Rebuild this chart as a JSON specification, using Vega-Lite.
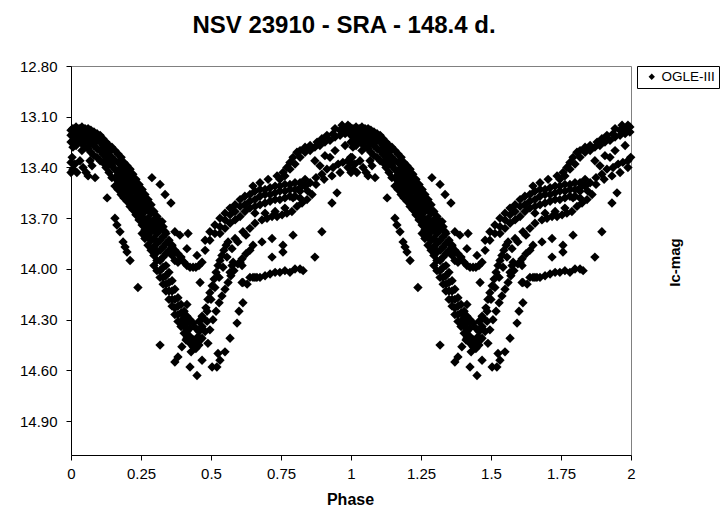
{
  "$schema": "https://vega.github.io/schema/vega-lite/v6.json",
  "width": 560,
  "height": 389,
  "autosize": "none",
  "padding": {"left": 71, "top": 66, "right": 94, "bottom": 59},
  "background": "white",
  "config": {"view": {"stroke": "#808080", "strokeWidth": 1}, "font": "Liberation Sans"},
  "title": {"text": "NSV 23910 - SRA - 148.4 d.", "font": "Liberation Sans", "fontSize": 24, "fontWeight": "bold", "color": "black", "anchor": "middle", "dx": -7, "dy": 22, "offset": 24, "baseline": "alphabetic"},
  "data": {"values": [
    {"p":0,"m":13.18},{"p":0,"m":13.21},{"p":0,"m":13.25},{"p":0.007,"m":13.17},{"p":0.007,"m":13.2},{"p":0.007,"m":13.24},{"p":0.007,"m":13.28},{"p":0.018,"m":13.16},{"p":0.018,"m":13.2},{"p":0.018,"m":13.23},{"p":0.018,"m":13.27},{"p":0.029,"m":13.17},{"p":0.029,"m":13.2},{"p":0.029,"m":13.24},{"p":0.039,"m":13.16},{"p":0.039,"m":13.19},{"p":0.039,"m":13.23},{"p":0.039,"m":13.26},{"p":0.039,"m":13.3},{"p":0.05,"m":13.17},{"p":0.05,"m":13.2},{"p":0.05,"m":13.24},{"p":0.05,"m":13.28},{"p":0.061,"m":13.17},{"p":0.061,"m":13.21},{"p":0.061,"m":13.25},{"p":0.061,"m":13.29},{"p":0.071,"m":13.18},{"p":0.071,"m":13.22},{"p":0.071,"m":13.26},{"p":0.071,"m":13.31},{"p":0.082,"m":13.19},{"p":0.082,"m":13.23},{"p":0.082,"m":13.27},{"p":0.082,"m":13.33},{"p":0.093,"m":13.2},{"p":0.093,"m":13.24},{"p":0.093,"m":13.29},{"p":0.093,"m":13.34},{"p":0.104,"m":13.21},{"p":0.104,"m":13.25},{"p":0.104,"m":13.3},{"p":0.104,"m":13.36},{"p":0.114,"m":13.23},{"p":0.114,"m":13.27},{"p":0.114,"m":13.32},{"p":0.114,"m":13.37},{"p":0.125,"m":13.25},{"p":0.125,"m":13.3},{"p":0.125,"m":13.34},{"p":0.125,"m":13.4},{"p":0.136,"m":13.27},{"p":0.136,"m":13.31},{"p":0.136,"m":13.37},{"p":0.136,"m":13.43},{"p":0.146,"m":13.28},{"p":0.146,"m":13.34},{"p":0.146,"m":13.39},{"p":0.146,"m":13.46},
    {"p":0.004,"m":13.34},{"p":0.007,"m":13.41},{"p":0.014,"m":13.38},{"p":0.021,"m":13.43},{"p":0.032,"m":13.36},{"p":0.043,"m":13.4},{"p":0.054,"m":13.43},{"p":0.061,"m":13.45},{"p":0.075,"m":13.39},{"p":0.086,"m":13.46},{"p":0.068,"m":13.36},{"p":0,"m":13.37},{"p":0,"m":13.43},
    {"p":0.157,"m":13.3},{"p":0.157,"m":13.36},{"p":0.157,"m":13.41},{"p":0.157,"m":13.46},{"p":0.157,"m":13.51},
    {"p":0.168,"m":13.32},{"p":0.168,"m":13.37},{"p":0.168,"m":13.43},{"p":0.168,"m":13.48},{"p":0.168,"m":13.53},
    {"p":0.179,"m":13.34},{"p":0.179,"m":13.4},{"p":0.179,"m":13.45},{"p":0.179,"m":13.5},{"p":0.179,"m":13.56},
    {"p":0.189,"m":13.37},{"p":0.189,"m":13.42},{"p":0.189,"m":13.47},{"p":0.189,"m":13.53},{"p":0.189,"m":13.58},
    {"p":0.2,"m":13.39},{"p":0.2,"m":13.44},{"p":0.2,"m":13.5},{"p":0.2,"m":13.55},{"p":0.2,"m":13.6},
    {"p":0.211,"m":13.41},{"p":0.211,"m":13.47},{"p":0.211,"m":13.52},{"p":0.211,"m":13.57},{"p":0.211,"m":13.63},
    {"p":0.221,"m":13.44},{"p":0.221,"m":13.49},{"p":0.221,"m":13.54},{"p":0.221,"m":13.6},{"p":0.221,"m":13.65},
    {"p":0.232,"m":13.47},{"p":0.232,"m":13.52},{"p":0.232,"m":13.57},{"p":0.232,"m":13.63},{"p":0.232,"m":13.68},
    {"p":0.243,"m":13.5},{"p":0.243,"m":13.55},{"p":0.243,"m":13.6},{"p":0.243,"m":13.66},{"p":0.243,"m":13.71},
    {"p":0.254,"m":13.53},{"p":0.254,"m":13.58},{"p":0.254,"m":13.63},{"p":0.254,"m":13.69},{"p":0.254,"m":13.74},{"p":0.254,"m":13.79},
    {"p":0.264,"m":13.56},{"p":0.264,"m":13.61},{"p":0.264,"m":13.66},{"p":0.264,"m":13.72},{"p":0.264,"m":13.77},{"p":0.264,"m":13.82},
    {"p":0.275,"m":13.59},{"p":0.275,"m":13.64},{"p":0.275,"m":13.7},{"p":0.275,"m":13.75},{"p":0.275,"m":13.8},{"p":0.275,"m":13.86},
    {"p":0.286,"m":13.62},{"p":0.286,"m":13.67},{"p":0.286,"m":13.73},{"p":0.286,"m":13.78},{"p":0.286,"m":13.83},{"p":0.286,"m":13.89},
    {"p":0.296,"m":13.66},{"p":0.296,"m":13.71},{"p":0.296,"m":13.76},{"p":0.296,"m":13.82},{"p":0.296,"m":13.87},{"p":0.296,"m":13.92},{"p":0.296,"m":13.98},
    {"p":0.307,"m":13.69},{"p":0.307,"m":13.74},{"p":0.307,"m":13.79},{"p":0.307,"m":13.85},{"p":0.307,"m":13.9},{"p":0.307,"m":13.95},{"p":0.307,"m":14.01},
    {"p":0.318,"m":13.72},{"p":0.318,"m":13.77},{"p":0.318,"m":13.83},{"p":0.318,"m":13.89},{"p":0.318,"m":13.95},{"p":0.318,"m":14.01},{"p":0.318,"m":14.05},
    {"p":0.329,"m":13.75},{"p":0.329,"m":13.81},{"p":0.329,"m":13.87},{"p":0.329,"m":13.93},{"p":0.329,"m":13.99},{"p":0.329,"m":14.05},{"p":0.329,"m":14.09},
    {"p":0.339,"m":13.79},{"p":0.339,"m":13.85},{"p":0.339,"m":13.91},{"p":0.339,"m":13.98},{"p":0.339,"m":14.04},{"p":0.339,"m":14.09},{"p":0.339,"m":14.13},
    {"p":0.35,"m":13.83},{"p":0.35,"m":13.89},{"p":0.35,"m":14.02},{"p":0.35,"m":14.08},{"p":0.35,"m":14.13},{"p":0.35,"m":14.18},
    {"p":0.361,"m":13.86},{"p":0.361,"m":13.92},{"p":0.361,"m":14.07},{"p":0.361,"m":14.13},{"p":0.361,"m":14.18},{"p":0.361,"m":14.22},
    {"p":0.371,"m":13.89},{"p":0.371,"m":13.95},{"p":0.371,"m":14.12},{"p":0.371,"m":14.18},{"p":0.371,"m":14.23},{"p":0.371,"m":14.27},
    {"p":0.382,"m":13.91},{"p":0.382,"m":14.17},{"p":0.382,"m":14.22},{"p":0.382,"m":14.27},{"p":0.382,"m":14.31},
    {"p":0.393,"m":13.93},{"p":0.393,"m":14.21},{"p":0.393,"m":14.26},{"p":0.393,"m":14.31},{"p":0.393,"m":14.34},
    {"p":0.404,"m":13.96},{"p":0.404,"m":14.25},{"p":0.404,"m":14.29},{"p":0.404,"m":14.34},{"p":0.404,"m":14.38},
    {"p":0.414,"m":13.98},{"p":0.414,"m":14.28},{"p":0.414,"m":14.32},{"p":0.414,"m":14.37},{"p":0.414,"m":14.41},
    {"p":0.425,"m":13.99},{"p":0.425,"m":14.3},{"p":0.425,"m":14.35},{"p":0.425,"m":14.4},{"p":0.425,"m":14.44},
    {"p":0.436,"m":13.99},{"p":0.436,"m":14.32},{"p":0.436,"m":14.42},{"p":0.436,"m":14.46},
    {"p":0.446,"m":13.99},{"p":0.446,"m":14.35},{"p":0.446,"m":14.44},{"p":0.446,"m":14.47},
    {"p":0.457,"m":13.98},{"p":0.457,"m":14.31},{"p":0.457,"m":14.37},{"p":0.457,"m":14.45},
    {"p":0.468,"m":13.96},{"p":0.468,"m":14.28},{"p":0.468,"m":14.34},{"p":0.468,"m":14.41},
    {"p":0.471,"m":14.29},{"p":0.482,"m":14.23},{"p":0.489,"m":14.18},{"p":0.496,"m":14.14},{"p":0.504,"m":14.1},{"p":0.511,"m":14.06},{"p":0.518,"m":14.02},{"p":0.525,"m":13.98},{"p":0.532,"m":13.95},{"p":0.539,"m":13.92},{"p":0.546,"m":13.89},{"p":0.554,"m":13.86},{"p":0.561,"m":13.84},
    {"p":0.586,"m":13.82},{"p":0.614,"m":13.78},{"p":0.639,"m":13.76},{"p":0.657,"m":13.73},{"p":0.682,"m":13.71},{"p":0.7,"m":13.7},{"p":0.718,"m":13.69},{"p":0.736,"m":13.69},{"p":0.754,"m":13.68},{"p":0.771,"m":13.67},{"p":0.789,"m":13.66},{"p":0.807,"m":13.63},{"p":0.825,"m":13.61},{"p":0.843,"m":13.59},{"p":0.861,"m":13.56},
    {"p":0.486,"m":14.25},{"p":0.5,"m":14.18},{"p":0.514,"m":14.11},{"p":0.529,"m":14.05},{"p":0.543,"m":13.99},{"p":0.557,"m":13.93},{"p":0.575,"m":13.88},{"p":0.596,"m":13.84},{"p":0.625,"m":13.8},
    {"p":0.496,"m":14.36},{"p":0.507,"m":14.3},{"p":0.518,"m":14.25},{"p":0.529,"m":14.2},{"p":0.539,"m":14.16},{"p":0.55,"m":14.12},{"p":0.561,"m":14.08},{"p":0.571,"m":14.04},{"p":0.582,"m":14.01},{"p":0.596,"m":13.97},{"p":0.611,"m":13.94},{"p":0.625,"m":13.91},{"p":0.639,"m":13.89},
    {"p":0.682,"m":13.84},{"p":0.718,"m":13.82},{"p":0.757,"m":13.86},{"p":0.793,"m":13.8},{"p":0.757,"m":13.9},{"p":0.718,"m":13.93},{"p":0.65,"m":13.86},
    {"p":0.479,"m":14.37},{"p":0.461,"m":14.42},{"p":0.454,"m":14.4},{"p":0.486,"m":14.31},
    {"p":0.318,"m":14.45},{"p":0.396,"m":14.46},{"p":0.382,"m":14.52},{"p":0.371,"m":14.55},{"p":0.425,"m":14.58},{"p":0.45,"m":14.63},{"p":0.468,"m":14.54},{"p":0.504,"m":14.58},{"p":0.521,"m":14.58},{"p":0.532,"m":14.54},{"p":0.55,"m":14.49},{"p":0.525,"m":14.5},{"p":0.489,"m":14.44},{"p":0.568,"m":14.41},{"p":0.593,"m":14.32},{"p":0.6,"m":14.25},{"p":0.614,"m":14.2},{"p":0.414,"m":14.21},{"p":0.461,"m":14.08},{"p":0.429,"m":14.49},{"p":0.411,"m":14.42},{"p":0.611,"m":14.08},{"p":0.629,"m":14.09},{"p":0.65,"m":14.05},{"p":0.664,"m":14.05},{"p":0.575,"m":13.98},{"p":0.611,"m":13.98},
    {"p":0.479,"m":13.89},{"p":0.479,"m":13.83},{"p":0.496,"m":13.83},{"p":0.496,"m":13.78},{"p":0.514,"m":13.79},{"p":0.514,"m":13.74},{"p":0.532,"m":13.75},{"p":0.532,"m":13.7},{"p":0.532,"m":13.79},{"p":0.55,"m":13.71},{"p":0.55,"m":13.67},{"p":0.55,"m":13.76},{"p":0.568,"m":13.68},{"p":0.568,"m":13.64},{"p":0.568,"m":13.73},{"p":0.586,"m":13.66},{"p":0.586,"m":13.62},{"p":0.586,"m":13.71},{"p":0.604,"m":13.63},{"p":0.604,"m":13.59},{"p":0.604,"m":13.69},{"p":0.621,"m":13.62},{"p":0.621,"m":13.57},{"p":0.621,"m":13.66},{"p":0.639,"m":13.6},{"p":0.639,"m":13.56},{"p":0.639,"m":13.64},{"p":0.657,"m":13.59},{"p":0.657,"m":13.54},{"p":0.657,"m":13.63},{"p":0.657,"m":13.67},{"p":0.675,"m":13.57},{"p":0.675,"m":13.53},{"p":0.675,"m":13.62},{"p":0.693,"m":13.56},{"p":0.693,"m":13.53},{"p":0.693,"m":13.61},{"p":0.693,"m":13.67},{"p":0.711,"m":13.56},{"p":0.711,"m":13.52},{"p":0.711,"m":13.6},{"p":0.729,"m":13.55},{"p":0.729,"m":13.51},{"p":0.729,"m":13.59},{"p":0.729,"m":13.66},{"p":0.746,"m":13.54},{"p":0.746,"m":13.51},{"p":0.746,"m":13.59},{"p":0.764,"m":13.54},{"p":0.764,"m":13.5},{"p":0.764,"m":13.58},{"p":0.764,"m":13.64},{"p":0.782,"m":13.53},{"p":0.782,"m":13.5},{"p":0.782,"m":13.57},{"p":0.8,"m":13.53},{"p":0.8,"m":13.49},{"p":0.8,"m":13.57},{"p":0.818,"m":13.52},{"p":0.818,"m":13.49},{"p":0.836,"m":13.51},{"p":0.836,"m":13.47},
    {"p":0.65,"m":13.51},{"p":0.675,"m":13.49},{"p":0.704,"m":13.47},{"p":0.736,"m":13.45},{"p":0.757,"m":13.43},{"p":0.771,"m":13.4},{"p":0.782,"m":13.37},{"p":0.793,"m":13.34},{"p":0.807,"m":13.31},{"p":0.818,"m":13.3},{"p":0.836,"m":13.28},{"p":0.854,"m":13.27},{"p":0.879,"m":13.25},{"p":0.896,"m":13.23},{"p":0.914,"m":13.21},{"p":0.936,"m":13.2},{"p":0.961,"m":13.18},{"p":0.979,"m":13.17},{"p":0.996,"m":13.16},
    {"p":0.818,"m":13.34},{"p":0.836,"m":13.31},{"p":0.854,"m":13.3},{"p":0.871,"m":13.28},{"p":0.889,"m":13.27},{"p":0.907,"m":13.25},{"p":0.925,"m":13.24},{"p":0.943,"m":13.22},{"p":0.961,"m":13.21},{"p":0.979,"m":13.2},{"p":0.996,"m":13.19},{"p":0.943,"m":13.17},{"p":0.968,"m":13.15},{"p":0.989,"m":13.15},{"p":0.8,"m":13.38},{"p":0.782,"m":13.41},{"p":0.764,"m":13.45},{"p":0.746,"m":13.47},
    {"p":0.793,"m":13.58},{"p":0.818,"m":13.54},{"p":0.836,"m":13.51},{"p":0.854,"m":13.49},{"p":0.875,"m":13.46},{"p":0.896,"m":13.44},{"p":0.914,"m":13.41},{"p":0.936,"m":13.4},{"p":0.954,"m":13.38},{"p":0.971,"m":13.37},{"p":0.989,"m":13.36},{"p":0.999,"m":13.34},{"p":0.818,"m":13.58},{"p":0.846,"m":13.54},{"p":0.875,"m":13.5},{"p":0.904,"m":13.47},{"p":0.932,"m":13.45},{"p":0.961,"m":13.43},{"p":0.989,"m":13.4},{"p":0.871,"m":13.36},{"p":0.907,"m":13.33},{"p":0.943,"m":13.3},{"p":0.979,"m":13.27},{"p":0.889,"m":13.39},{"p":0.925,"m":13.34},
    {"p":0.614,"m":14.08},{"p":0.639,"m":14.05},{"p":0.657,"m":14.05},{"p":0.675,"m":14.05},{"p":0.693,"m":14.04},{"p":0.711,"m":14.03},{"p":0.729,"m":14.02},{"p":0.746,"m":14.02},{"p":0.764,"m":14.01},{"p":0.782,"m":14.02},{"p":0.8,"m":14},{"p":0.818,"m":14},{"p":0.829,"m":14.01},{"p":0.579,"m":13.96},{"p":0.604,"m":13.96},{"p":0.568,"m":14.02},{"p":0.871,"m":13.93},{"p":0.896,"m":13.78},{"p":0.932,"m":13.61},{"p":0.95,"m":13.55},
    {"p":0.289,"m":13.46},{"p":0.318,"m":13.5},{"p":0.336,"m":13.56},{"p":0.357,"m":13.61},{"p":0.418,"m":13.79},{"p":0.414,"m":13.88},{"p":0.45,"m":13.92},{"p":0.129,"m":13.58},{"p":0.239,"m":14.11},{"p":0.157,"m":13.7},{"p":0.164,"m":13.74},{"p":0.175,"m":13.78},{"p":0.186,"m":13.84},{"p":0.193,"m":13.87},{"p":0.2,"m":13.9},{"p":0.211,"m":13.95},
    {"p":0.293,"m":13.66},{"p":0.325,"m":13.72},{"p":0.336,"m":13.78},{"p":0.371,"m":13.78},{"p":0.389,"m":13.8},{"p":0.361,"m":13.87},{"p":0.382,"m":13.96},

    {"p":1,"m":13.18},{"p":1,"m":13.21},{"p":1,"m":13.25},{"p":1.007,"m":13.17},{"p":1.007,"m":13.2},{"p":1.007,"m":13.24},{"p":1.007,"m":13.28},{"p":1.018,"m":13.16},{"p":1.018,"m":13.2},{"p":1.018,"m":13.23},{"p":1.018,"m":13.27},{"p":1.029,"m":13.17},{"p":1.029,"m":13.2},{"p":1.029,"m":13.24},{"p":1.039,"m":13.16},{"p":1.039,"m":13.19},{"p":1.039,"m":13.23},{"p":1.039,"m":13.26},{"p":1.039,"m":13.3},{"p":1.05,"m":13.17},{"p":1.05,"m":13.2},{"p":1.05,"m":13.24},{"p":1.05,"m":13.28},{"p":1.061,"m":13.17},{"p":1.061,"m":13.21},{"p":1.061,"m":13.25},{"p":1.061,"m":13.29},{"p":1.071,"m":13.18},{"p":1.071,"m":13.22},{"p":1.071,"m":13.26},{"p":1.071,"m":13.31},{"p":1.082,"m":13.19},{"p":1.082,"m":13.23},{"p":1.082,"m":13.27},{"p":1.082,"m":13.33},{"p":1.093,"m":13.2},{"p":1.093,"m":13.24},{"p":1.093,"m":13.29},{"p":1.093,"m":13.34},{"p":1.104,"m":13.21},{"p":1.104,"m":13.25},{"p":1.104,"m":13.3},{"p":1.104,"m":13.36},{"p":1.114,"m":13.23},{"p":1.114,"m":13.27},{"p":1.114,"m":13.32},{"p":1.114,"m":13.37},{"p":1.125,"m":13.25},{"p":1.125,"m":13.3},{"p":1.125,"m":13.34},{"p":1.125,"m":13.4},{"p":1.136,"m":13.27},{"p":1.136,"m":13.31},{"p":1.136,"m":13.37},{"p":1.136,"m":13.43},{"p":1.146,"m":13.28},{"p":1.146,"m":13.34},{"p":1.146,"m":13.39},{"p":1.146,"m":13.46},
    {"p":1.004,"m":13.34},{"p":1.007,"m":13.41},{"p":1.014,"m":13.38},{"p":1.021,"m":13.43},{"p":1.032,"m":13.36},{"p":1.043,"m":13.4},{"p":1.054,"m":13.43},{"p":1.061,"m":13.45},{"p":1.075,"m":13.39},{"p":1.086,"m":13.46},{"p":1.068,"m":13.36},{"p":1,"m":13.37},{"p":1,"m":13.43},
    {"p":1.157,"m":13.3},{"p":1.157,"m":13.36},{"p":1.157,"m":13.41},{"p":1.157,"m":13.46},{"p":1.157,"m":13.51},
    {"p":1.168,"m":13.32},{"p":1.168,"m":13.37},{"p":1.168,"m":13.43},{"p":1.168,"m":13.48},{"p":1.168,"m":13.53},
    {"p":1.179,"m":13.34},{"p":1.179,"m":13.4},{"p":1.179,"m":13.45},{"p":1.179,"m":13.5},{"p":1.179,"m":13.56},
    {"p":1.189,"m":13.37},{"p":1.189,"m":13.42},{"p":1.189,"m":13.47},{"p":1.189,"m":13.53},{"p":1.189,"m":13.58},
    {"p":1.2,"m":13.39},{"p":1.2,"m":13.44},{"p":1.2,"m":13.5},{"p":1.2,"m":13.55},{"p":1.2,"m":13.6},
    {"p":1.211,"m":13.41},{"p":1.211,"m":13.47},{"p":1.211,"m":13.52},{"p":1.211,"m":13.57},{"p":1.211,"m":13.63},
    {"p":1.221,"m":13.44},{"p":1.221,"m":13.49},{"p":1.221,"m":13.54},{"p":1.221,"m":13.6},{"p":1.221,"m":13.65},
    {"p":1.232,"m":13.47},{"p":1.232,"m":13.52},{"p":1.232,"m":13.57},{"p":1.232,"m":13.63},{"p":1.232,"m":13.68},
    {"p":1.243,"m":13.5},{"p":1.243,"m":13.55},{"p":1.243,"m":13.6},{"p":1.243,"m":13.66},{"p":1.243,"m":13.71},
    {"p":1.254,"m":13.53},{"p":1.254,"m":13.58},{"p":1.254,"m":13.63},{"p":1.254,"m":13.69},{"p":1.254,"m":13.74},{"p":1.254,"m":13.79},
    {"p":1.264,"m":13.56},{"p":1.264,"m":13.61},{"p":1.264,"m":13.66},{"p":1.264,"m":13.72},{"p":1.264,"m":13.77},{"p":1.264,"m":13.82},
    {"p":1.275,"m":13.59},{"p":1.275,"m":13.64},{"p":1.275,"m":13.7},{"p":1.275,"m":13.75},{"p":1.275,"m":13.8},{"p":1.275,"m":13.86},
    {"p":1.286,"m":13.62},{"p":1.286,"m":13.67},{"p":1.286,"m":13.73},{"p":1.286,"m":13.78},{"p":1.286,"m":13.83},{"p":1.286,"m":13.89},
    {"p":1.296,"m":13.66},{"p":1.296,"m":13.71},{"p":1.296,"m":13.76},{"p":1.296,"m":13.82},{"p":1.296,"m":13.87},{"p":1.296,"m":13.92},{"p":1.296,"m":13.98},
    {"p":1.307,"m":13.69},{"p":1.307,"m":13.74},{"p":1.307,"m":13.79},{"p":1.307,"m":13.85},{"p":1.307,"m":13.9},{"p":1.307,"m":13.95},{"p":1.307,"m":14.01},
    {"p":1.318,"m":13.72},{"p":1.318,"m":13.77},{"p":1.318,"m":13.83},{"p":1.318,"m":13.89},{"p":1.318,"m":13.95},{"p":1.318,"m":14.01},{"p":1.318,"m":14.05},
    {"p":1.329,"m":13.75},{"p":1.329,"m":13.81},{"p":1.329,"m":13.87},{"p":1.329,"m":13.93},{"p":1.329,"m":13.99},{"p":1.329,"m":14.05},{"p":1.329,"m":14.09},
    {"p":1.339,"m":13.79},{"p":1.339,"m":13.85},{"p":1.339,"m":13.91},{"p":1.339,"m":13.98},{"p":1.339,"m":14.04},{"p":1.339,"m":14.09},{"p":1.339,"m":14.13},
    {"p":1.35,"m":13.83},{"p":1.35,"m":13.89},{"p":1.35,"m":14.02},{"p":1.35,"m":14.08},{"p":1.35,"m":14.13},{"p":1.35,"m":14.18},
    {"p":1.361,"m":13.86},{"p":1.361,"m":13.92},{"p":1.361,"m":14.07},{"p":1.361,"m":14.13},{"p":1.361,"m":14.18},{"p":1.361,"m":14.22},
    {"p":1.371,"m":13.89},{"p":1.371,"m":13.95},{"p":1.371,"m":14.12},{"p":1.371,"m":14.18},{"p":1.371,"m":14.23},{"p":1.371,"m":14.27},
    {"p":1.382,"m":13.91},{"p":1.382,"m":14.17},{"p":1.382,"m":14.22},{"p":1.382,"m":14.27},{"p":1.382,"m":14.31},
    {"p":1.393,"m":13.93},{"p":1.393,"m":14.21},{"p":1.393,"m":14.26},{"p":1.393,"m":14.31},{"p":1.393,"m":14.34},
    {"p":1.404,"m":13.96},{"p":1.404,"m":14.25},{"p":1.404,"m":14.29},{"p":1.404,"m":14.34},{"p":1.404,"m":14.38},
    {"p":1.414,"m":13.98},{"p":1.414,"m":14.28},{"p":1.414,"m":14.32},{"p":1.414,"m":14.37},{"p":1.414,"m":14.41},
    {"p":1.425,"m":13.99},{"p":1.425,"m":14.3},{"p":1.425,"m":14.35},{"p":1.425,"m":14.4},{"p":1.425,"m":14.44},
    {"p":1.436,"m":13.99},{"p":1.436,"m":14.32},{"p":1.436,"m":14.42},{"p":1.436,"m":14.46},
    {"p":1.446,"m":13.99},{"p":1.446,"m":14.35},{"p":1.446,"m":14.44},{"p":1.446,"m":14.47},
    {"p":1.457,"m":13.98},{"p":1.457,"m":14.31},{"p":1.457,"m":14.37},{"p":1.457,"m":14.45},
    {"p":1.468,"m":13.96},{"p":1.468,"m":14.28},{"p":1.468,"m":14.34},{"p":1.468,"m":14.41},
    {"p":1.471,"m":14.29},{"p":1.482,"m":14.23},{"p":1.489,"m":14.18},{"p":1.496,"m":14.14},{"p":1.504,"m":14.1},{"p":1.511,"m":14.06},{"p":1.518,"m":14.02},{"p":1.525,"m":13.98},{"p":1.532,"m":13.95},{"p":1.539,"m":13.92},{"p":1.546,"m":13.89},{"p":1.554,"m":13.86},{"p":1.561,"m":13.84},
    {"p":1.586,"m":13.82},{"p":1.614,"m":13.78},{"p":1.639,"m":13.76},{"p":1.657,"m":13.73},{"p":1.682,"m":13.71},{"p":1.7,"m":13.7},{"p":1.718,"m":13.69},{"p":1.736,"m":13.69},{"p":1.754,"m":13.68},{"p":1.771,"m":13.67},{"p":1.789,"m":13.66},{"p":1.807,"m":13.63},{"p":1.825,"m":13.61},{"p":1.843,"m":13.59},{"p":1.861,"m":13.56},
    {"p":1.486,"m":14.25},{"p":1.5,"m":14.18},{"p":1.514,"m":14.11},{"p":1.529,"m":14.05},{"p":1.543,"m":13.99},{"p":1.557,"m":13.93},{"p":1.575,"m":13.88},{"p":1.596,"m":13.84},{"p":1.625,"m":13.8},
    {"p":1.496,"m":14.36},{"p":1.507,"m":14.3},{"p":1.518,"m":14.25},{"p":1.529,"m":14.2},{"p":1.539,"m":14.16},{"p":1.55,"m":14.12},{"p":1.561,"m":14.08},{"p":1.571,"m":14.04},{"p":1.582,"m":14.01},{"p":1.596,"m":13.97},{"p":1.611,"m":13.94},{"p":1.625,"m":13.91},{"p":1.639,"m":13.89},
    {"p":1.682,"m":13.84},{"p":1.718,"m":13.82},{"p":1.757,"m":13.86},{"p":1.793,"m":13.8},{"p":1.757,"m":13.9},{"p":1.718,"m":13.93},{"p":1.65,"m":13.86},
    {"p":1.479,"m":14.37},{"p":1.461,"m":14.42},{"p":1.454,"m":14.4},{"p":1.486,"m":14.31},
    {"p":1.318,"m":14.45},{"p":1.396,"m":14.46},{"p":1.382,"m":14.52},{"p":1.371,"m":14.55},{"p":1.425,"m":14.58},{"p":1.45,"m":14.63},{"p":1.468,"m":14.54},{"p":1.504,"m":14.58},{"p":1.521,"m":14.58},{"p":1.532,"m":14.54},{"p":1.55,"m":14.49},{"p":1.525,"m":14.5},{"p":1.489,"m":14.44},{"p":1.568,"m":14.41},{"p":1.593,"m":14.32},{"p":1.6,"m":14.25},{"p":1.614,"m":14.2},{"p":1.414,"m":14.21},{"p":1.461,"m":14.08},{"p":1.429,"m":14.49},{"p":1.411,"m":14.42},{"p":1.611,"m":14.08},{"p":1.629,"m":14.09},{"p":1.65,"m":14.05},{"p":1.664,"m":14.05},{"p":1.575,"m":13.98},{"p":1.611,"m":13.98},
    {"p":1.479,"m":13.89},{"p":1.479,"m":13.83},{"p":1.496,"m":13.83},{"p":1.496,"m":13.78},{"p":1.514,"m":13.79},{"p":1.514,"m":13.74},{"p":1.532,"m":13.75},{"p":1.532,"m":13.7},{"p":1.532,"m":13.79},{"p":1.55,"m":13.71},{"p":1.55,"m":13.67},{"p":1.55,"m":13.76},{"p":1.568,"m":13.68},{"p":1.568,"m":13.64},{"p":1.568,"m":13.73},{"p":1.586,"m":13.66},{"p":1.586,"m":13.62},{"p":1.586,"m":13.71},{"p":1.604,"m":13.63},{"p":1.604,"m":13.59},{"p":1.604,"m":13.69},{"p":1.621,"m":13.62},{"p":1.621,"m":13.57},{"p":1.621,"m":13.66},{"p":1.639,"m":13.6},{"p":1.639,"m":13.56},{"p":1.639,"m":13.64},{"p":1.657,"m":13.59},{"p":1.657,"m":13.54},{"p":1.657,"m":13.63},{"p":1.657,"m":13.67},{"p":1.675,"m":13.57},{"p":1.675,"m":13.53},{"p":1.675,"m":13.62},{"p":1.693,"m":13.56},{"p":1.693,"m":13.53},{"p":1.693,"m":13.61},{"p":1.693,"m":13.67},{"p":1.711,"m":13.56},{"p":1.711,"m":13.52},{"p":1.711,"m":13.6},{"p":1.729,"m":13.55},{"p":1.729,"m":13.51},{"p":1.729,"m":13.59},{"p":1.729,"m":13.66},{"p":1.746,"m":13.54},{"p":1.746,"m":13.51},{"p":1.746,"m":13.59},{"p":1.764,"m":13.54},{"p":1.764,"m":13.5},{"p":1.764,"m":13.58},{"p":1.764,"m":13.64},{"p":1.782,"m":13.53},{"p":1.782,"m":13.5},{"p":1.782,"m":13.57},{"p":1.8,"m":13.53},{"p":1.8,"m":13.49},{"p":1.8,"m":13.57},{"p":1.818,"m":13.52},{"p":1.818,"m":13.49},{"p":1.836,"m":13.51},{"p":1.836,"m":13.47},
    {"p":1.65,"m":13.51},{"p":1.675,"m":13.49},{"p":1.704,"m":13.47},{"p":1.736,"m":13.45},{"p":1.757,"m":13.43},{"p":1.771,"m":13.4},{"p":1.782,"m":13.37},{"p":1.793,"m":13.34},{"p":1.807,"m":13.31},{"p":1.818,"m":13.3},{"p":1.836,"m":13.28},{"p":1.854,"m":13.27},{"p":1.879,"m":13.25},{"p":1.896,"m":13.23},{"p":1.914,"m":13.21},{"p":1.936,"m":13.2},{"p":1.961,"m":13.18},{"p":1.979,"m":13.17},{"p":1.996,"m":13.16},
    {"p":1.818,"m":13.34},{"p":1.836,"m":13.31},{"p":1.854,"m":13.3},{"p":1.871,"m":13.28},{"p":1.889,"m":13.27},{"p":1.907,"m":13.25},{"p":1.925,"m":13.24},{"p":1.943,"m":13.22},{"p":1.961,"m":13.21},{"p":1.979,"m":13.2},{"p":1.996,"m":13.19},{"p":1.943,"m":13.17},{"p":1.968,"m":13.15},{"p":1.989,"m":13.15},{"p":1.8,"m":13.38},{"p":1.782,"m":13.41},{"p":1.764,"m":13.45},{"p":1.746,"m":13.47},
    {"p":1.793,"m":13.58},{"p":1.818,"m":13.54},{"p":1.836,"m":13.51},{"p":1.854,"m":13.49},{"p":1.875,"m":13.46},{"p":1.896,"m":13.44},{"p":1.914,"m":13.41},{"p":1.936,"m":13.4},{"p":1.954,"m":13.38},{"p":1.971,"m":13.37},{"p":1.989,"m":13.36},{"p":1.999,"m":13.34},{"p":1.818,"m":13.58},{"p":1.846,"m":13.54},{"p":1.875,"m":13.5},{"p":1.904,"m":13.47},{"p":1.932,"m":13.45},{"p":1.961,"m":13.43},{"p":1.989,"m":13.4},{"p":1.871,"m":13.36},{"p":1.907,"m":13.33},{"p":1.943,"m":13.3},{"p":1.979,"m":13.27},{"p":1.889,"m":13.39},{"p":1.925,"m":13.34},
    {"p":1.614,"m":14.08},{"p":1.639,"m":14.05},{"p":1.657,"m":14.05},{"p":1.675,"m":14.05},{"p":1.693,"m":14.04},{"p":1.711,"m":14.03},{"p":1.729,"m":14.02},{"p":1.746,"m":14.02},{"p":1.764,"m":14.01},{"p":1.782,"m":14.02},{"p":1.8,"m":14},{"p":1.818,"m":14},{"p":1.829,"m":14.01},{"p":1.579,"m":13.96},{"p":1.604,"m":13.96},{"p":1.568,"m":14.02},{"p":1.871,"m":13.93},{"p":1.896,"m":13.78},{"p":1.932,"m":13.61},{"p":1.95,"m":13.55},
    {"p":1.289,"m":13.46},{"p":1.318,"m":13.5},{"p":1.336,"m":13.56},{"p":1.357,"m":13.61},{"p":1.418,"m":13.79},{"p":1.414,"m":13.88},{"p":1.45,"m":13.92},{"p":1.129,"m":13.58},{"p":1.239,"m":14.11},{"p":1.157,"m":13.7},{"p":1.164,"m":13.74},{"p":1.175,"m":13.78},{"p":1.186,"m":13.84},{"p":1.193,"m":13.87},{"p":1.2,"m":13.9},{"p":1.211,"m":13.95},
    {"p":1.293,"m":13.66},{"p":1.325,"m":13.72},{"p":1.336,"m":13.78},{"p":1.371,"m":13.78},{"p":1.389,"m":13.8},{"p":1.361,"m":13.87},{"p":1.382,"m":13.96}
  ]},
  "mark": {"type": "point", "shape": "diamond", "filled": true, "opacity": 1, "size": 88},
  "encoding": {
    "x": {
      "field": "p",
      "type": "quantitative",
      "scale": {"domain": [0, 2], "nice": false, "zero": false},
      "axis": {
        "values": [0, 0.25, 0.5, 0.75, 1, 1.25, 1.5, 1.75, 2],
        "format": ".4~g",
        "grid": false,
        "domainColor": "black",
        "tickColor": "black",
        "tickSize": 5,
        "labelFont": "Liberation Sans",
        "labelFontSize": 15,
        "labelColor": "black",
        "labelPadding": 6,
        "labelFlush": false,
        "labelOverlap": false,
        "title": "Phase",
        "titleFont": "Liberation Sans",
        "titleFontSize": 16,
        "titleFontWeight": "bold",
        "titleColor": "black",
        "titleX": 279,
        "titleY": 49,
        "titleAlign": "center",
        "titleBaseline": "alphabetic"
      }
    },
    "y": {
      "field": "m",
      "type": "quantitative",
      "scale": {"domain": [12.8, 15.1], "reverse": true, "nice": false, "zero": false},
      "axis": {
        "values": [12.8, 13.1, 13.4, 13.7, 14, 14.3, 14.6, 14.9],
        "format": ".2f",
        "grid": false,
        "domainColor": "black",
        "tickColor": "black",
        "tickSize": 5,
        "labelFont": "Liberation Sans",
        "labelFontSize": 15,
        "labelColor": "black",
        "labelPadding": 9,
        "labelFlush": false,
        "labelOverlap": false,
        "title": "Ic-mag",
        "titleFont": "Liberation Sans",
        "titleFontSize": 15,
        "titleFontWeight": "bold",
        "titleColor": "black",
        "titleAngle": 270,
        "titleX": 603,
        "titleY": 196,
        "titleAlign": "center",
        "titleBaseline": "middle"
      }
    },
    "color": {
      "datum": "OGLE-III",
      "type": "nominal",
      "scale": {"range": ["black"]},
      "legend": {
        "orient": "none",
        "legendX": 566,
        "legendY": 0,
        "title": null,
        "strokeColor": "black",
        "fillColor": "white",
        "padding": 4,
        "symbolOffset": 4,
        "labelOffset": 3,
        "labelFont": "Liberation Sans",
        "labelFontSize": 13.5,
        "labelColor": "black",
        "symbolSize": 40,
        "symbolType": "diamond",
        "symbolFillColor": "black",
        "symbolStrokeWidth": 0
      }
    },
    "shape": {"datum": "OGLE-III", "type": "nominal", "scale": {"range": ["diamond"]}, "legend": null}
  }
}
